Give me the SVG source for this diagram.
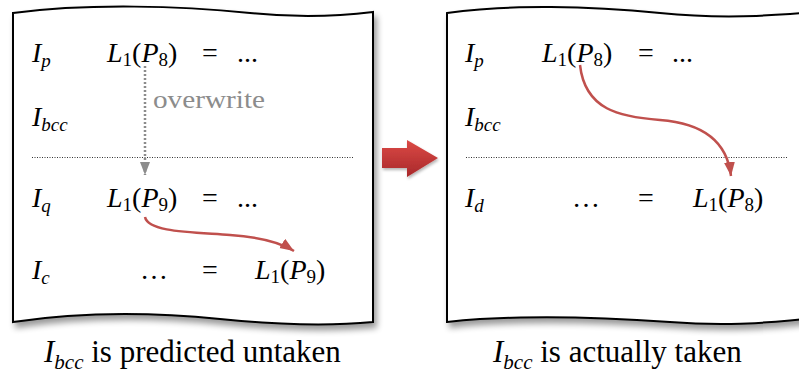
<svg xmlns="http://www.w3.org/2000/svg" width="799" height="381" viewBox="0 0 799 381">
<defs>
  <filter id="sh" x="-5%" y="-5%" width="115%" height="120%">
    <feGaussianBlur in="SourceAlpha" stdDeviation="3"/>
    <feOffset dx="3" dy="5"/>
    <feComponentTransfer><feFuncA type="linear" slope="0.4"/></feComponentTransfer>
    <feMerge><feMergeNode/><feMergeNode in="SourceGraphic"/></feMerge>
  </filter>
  <filter id="sh2" x="-20%" y="-20%" width="150%" height="160%">
    <feGaussianBlur in="SourceAlpha" stdDeviation="1.5"/>
    <feOffset dx="1" dy="2"/>
    <feComponentTransfer><feFuncA type="linear" slope="0.3"/></feComponentTransfer>
    <feMerge><feMergeNode/><feMergeNode in="SourceGraphic"/></feMerge>
  </filter>
  <linearGradient id="rg" x1="0" y1="0" x2="0" y2="1">
    <stop offset="0" stop-color="#dc4a46"/>
    <stop offset="1" stop-color="#a8282a"/>
  </linearGradient>
  <marker id="ah-red" markerUnits="userSpaceOnUse" markerWidth="16" markerHeight="12" refX="14" refY="5.5" orient="auto">
    <path d="M0,0 L14,5.5 L0,11 z" fill="#c0504d"/>
  </marker>
  <marker id="ah-gray" markerUnits="userSpaceOnUse" markerWidth="14" markerHeight="12" refX="13" refY="5" orient="auto">
    <path d="M0,0 L13,5 L0,10 z" fill="#8c8c8c"/>
  </marker>
</defs>

<g id="panel-left">
  <path d="M13,13 C90,3 180,6 250,13 C300,18 340,16 373,12 L373,322 C320,327 270,324 220,319 C150,312 80,312 13,322 Z" fill="#fff" stroke="#000" stroke-width="2" filter="url(#sh)"/>
  <line x1="32" y1="157.5" x2="353" y2="157.5" stroke="#333" stroke-width="1" stroke-dasharray="1 1.5"/>
</g>
<g id="panel-right">
  <path d="M447,13 C510,4 590,6 660,13 C720,19 770,16 815,12 L815,318 C760,324 720,326 670,322 C600,317 520,314 447,322 Z" fill="#fff" stroke="#000" stroke-width="2" filter="url(#sh)"/>
  <line x1="466" y1="157.5" x2="788" y2="157.5" stroke="#333" stroke-width="1" stroke-dasharray="1 1.5"/>
</g>

<g id="big-arrow" filter="url(#sh2)">
  <path d="M382,148 L407,148 L407,140 L438,158 L407,177 L407,168 L382,168 Z" fill="url(#rg)"/>
</g>

<g id="left-row1">
  <text font-family="Liberation Serif" font-size="28" x="32" y="62"><tspan font-style="italic">I</tspan><tspan font-size="19" font-style="italic" dy="5">p</tspan></text>
  <text font-family="Liberation Serif" font-size="28" x="107" y="62"><tspan font-style="italic">L</tspan><tspan font-size="19" dy="4">1</tspan><tspan dy="-4">(</tspan><tspan font-style="italic">P</tspan><tspan font-size="19" dy="4">8</tspan><tspan dy="-4">)</tspan></text>
  <text font-family="Liberation Serif" font-size="28" x="202" y="62">=</text>
  <text font-family="Liberation Serif" font-size="28" x="237" y="62">...</text>
</g>
<g id="left-row2">
  <text font-family="Liberation Serif" font-size="28" x="32" y="126"><tspan font-style="italic">I</tspan><tspan font-size="19" font-style="italic" dy="5">bcc</tspan></text>
</g>
<g id="left-row3">
  <text font-family="Liberation Serif" font-size="28" x="32" y="207"><tspan font-style="italic">I</tspan><tspan font-size="19" font-style="italic" dy="5">q</tspan></text>
  <text font-family="Liberation Serif" font-size="28" x="107" y="207"><tspan font-style="italic">L</tspan><tspan font-size="19" dy="4">1</tspan><tspan dy="-4">(</tspan><tspan font-style="italic">P</tspan><tspan font-size="19" dy="4">9</tspan><tspan dy="-4">)</tspan></text>
  <text font-family="Liberation Serif" font-size="28" x="202" y="207">=</text>
  <text font-family="Liberation Serif" font-size="28" x="237" y="207">...</text>
</g>
<g id="left-row4">
  <text font-family="Liberation Serif" font-size="28" x="32" y="279"><tspan font-style="italic">I</tspan><tspan font-size="19" font-style="italic" dy="5">c</tspan></text>
  <text font-family="Liberation Serif" font-size="28" x="140" y="279">…</text>
  <text font-family="Liberation Serif" font-size="28" x="202" y="279">=</text>
  <text font-family="Liberation Serif" font-size="28" x="255" y="279"><tspan font-style="italic">L</tspan><tspan font-size="19" dy="4">1</tspan><tspan dy="-4">(</tspan><tspan font-style="italic">P</tspan><tspan font-size="19" dy="4">9</tspan><tspan dy="-4">)</tspan></text>
</g>

<g id="right-row1">
  <text font-family="Liberation Serif" font-size="28" x="465" y="62"><tspan font-style="italic">I</tspan><tspan font-size="19" font-style="italic" dy="5">p</tspan></text>
  <text font-family="Liberation Serif" font-size="28" x="542" y="62"><tspan font-style="italic">L</tspan><tspan font-size="19" dy="4">1</tspan><tspan dy="-4">(</tspan><tspan font-style="italic">P</tspan><tspan font-size="19" dy="4">8</tspan><tspan dy="-4">)</tspan></text>
  <text font-family="Liberation Serif" font-size="28" x="638" y="62">=</text>
  <text font-family="Liberation Serif" font-size="28" x="672" y="62">...</text>
</g>
<g id="right-row2">
  <text font-family="Liberation Serif" font-size="28" x="465" y="126"><tspan font-style="italic">I</tspan><tspan font-size="19" font-style="italic" dy="5">bcc</tspan></text>
</g>
<g id="right-row3">
  <text font-family="Liberation Serif" font-size="28" x="465" y="207"><tspan font-style="italic">I</tspan><tspan font-size="19" font-style="italic" dy="5">d</tspan></text>
  <text font-family="Liberation Serif" font-size="28" x="572" y="207">…</text>
  <text font-family="Liberation Serif" font-size="28" x="638" y="207">=</text>
  <text font-family="Liberation Serif" font-size="28" x="693" y="207"><tspan font-style="italic">L</tspan><tspan font-size="19" dy="4">1</tspan><tspan dy="-4">(</tspan><tspan font-style="italic">P</tspan><tspan font-size="19" dy="4">8</tspan><tspan dy="-4">)</tspan></text>
</g>

<g id="connectors">
  <path d="M145,66 L145,175" stroke="#8c8c8c" stroke-width="2.5" stroke-dasharray="2 2" fill="none" marker-end="url(#ah-gray)"/>
  <text font-family="Liberation Serif" font-size="25" fill="#8c8c8c" x="153" y="108" textLength="112" lengthAdjust="spacingAndGlyphs">overwrite</text>
  <path d="M145,217 C148,232 190,232 230,235 C260,237 280,242 294,251" stroke="#c0504d" stroke-width="2.5" fill="none" marker-end="url(#ah-red)"/>
  <path d="M580,65 C585,110 620,117 660,120 C700,123 727,140 731,176" stroke="#c0504d" stroke-width="2.5" fill="none" marker-end="url(#ah-red)"/>
</g>

<g id="caption-left">
  <text font-family="Liberation Serif" font-size="31" x="44" y="362"><tspan font-style="italic">I</tspan><tspan font-size="21" font-style="italic" dy="7">bcc</tspan><tspan dy="-7"> is predicted untaken</tspan></text>
</g>
<g id="caption-right">
  <text font-family="Liberation Serif" font-size="31" x="493" y="362"><tspan font-style="italic">I</tspan><tspan font-size="21" font-style="italic" dy="7">bcc</tspan><tspan dy="-7"> is actually taken</tspan></text>
</g>
</svg>
